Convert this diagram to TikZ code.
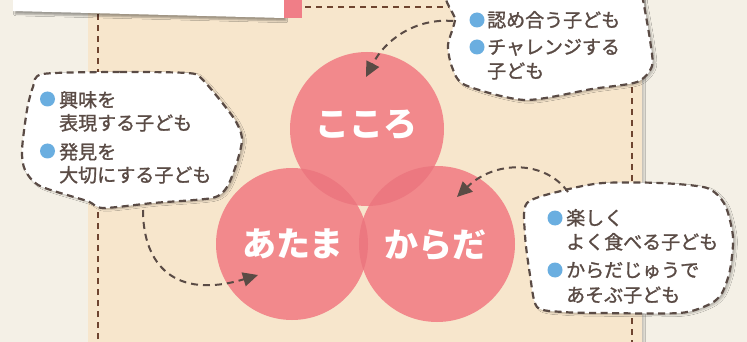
\documentclass[tikz,border=0pt]{standalone}
\usepackage{fontspec}
\newfontfamily\jp{Noto Sans CJK JP}
\newfontfamily\jpm{Noto Sans CJK JP}[FakeBold=1.3]
\usetikzlibrary{arrows.meta,shadows.blur}
\definecolor{bgcol}{HTML}{F4F0E6}
\definecolor{tancol}{HTML}{F7E6CC}
\definecolor{pinkA}{HTML}{F2898C}
\definecolor{pinkB}{HTML}{EC7880}
\definecolor{stripcol}{HTML}{F07E87}
\definecolor{inkcol}{HTML}{5A4B45}
\definecolor{linecol}{HTML}{6E4430}
\definecolor{bulcol}{HTML}{6AAEE0}
\tikzset{
  panelline/.style={draw=linecol, line width=1.2pt, dash pattern=on 6pt off 5pt},
  bubble/.style={fill=white, draw=inkcol, line width=2.2pt, dash pattern=on 7pt off 4.5pt,
    blur shadow={shadow xshift=2.5pt, shadow yshift=-1.5pt, shadow blur steps=6, shadow opacity=25}},
  arr/.style={draw=inkcol, line width=2pt, dash pattern=on 7pt off 5pt,
    -{Triangle[length=15pt,width=14pt]}},
  ball/.style={circle, fill=pinkA, inner sep=0pt},
  bigtxt/.style={text=white, font=\jp\bfseries\fontsize{34}{34}\selectfont, inner sep=0pt},
  line/.style={text=inkcol, font=\jpm\fontsize{19}{19}\selectfont, inner sep=0pt, anchor=base west},
  bul/.style={circle, fill=bulcol, minimum size=15pt, inner sep=0pt}
}
\begin{document}
\begin{tikzpicture}[x=1pt,y=-1pt]
\useasboundingbox (0,0) rectangle (747,342);
\clip (0,0) rectangle (747,342);
\fill[bgcol] (0,0) rectangle (747,342);
\fill[tancol, blur shadow={shadow xshift=2pt, shadow yshift=0pt, shadow opacity=20}] (88,-5) rectangle (642,350);
\draw[panelline] (98,350) -- (98,7) -- (632,7) -- (632,350);
% banner
\fill[white, blur shadow={shadow xshift=2pt, shadow yshift=-3pt, shadow opacity=35}] (13,-10) -- (284,-10) -- (284,18) -- (13,11) -- cycle;
\fill[stripcol] (284,-10) rectangle (302,18);
% circles
\node[ball, minimum size=154pt] (kokoroC) at (367,129) {};
\node[ball, minimum size=152pt] (atamaC) at (292,244) {};
\node[ball, minimum size=156pt] (karadaC) at (437,244) {};
\begin{scope}
  \clip (367,129) circle (77);
  \fill[pinkB] (292,244) circle (76);
  \fill[pinkB] (437,244) circle (78);
\end{scope}
\begin{scope}
  \clip (292,244) circle (76);
  \fill[pinkB] (437,244) circle (78);
\end{scope}
\node[bigtxt] (kokoro) at (366,125) {こころ};
\node[bigtxt] (atama) at (293,244) {あたま};
\node[bigtxt] (karada) at (435,245) {からだ};
% bubbles
\path[bubble] plot[smooth cycle, tension=0.45] coordinates {(43,74) (120,72) (187,73) (202,79) (233,117) (242,138) (237,162) (227,187) (212,198) (153,203) (103,208) (87,201) (40,186) (25,170) (22,150) (27,110) (33,87)};
\path[bubble] plot[smooth cycle, tension=0.45] coordinates {(456,-12) (455,20) (448,45) (452,67) (465,85) (525,100) (592,89) (637,82) (652,66) (650,40) (643,0) (640,-12)};
\path[bubble] plot[smooth cycle, tension=0.45] coordinates {(527,203) (565,190) (603,183) (660,183) (707,188) (725,205) (733,237) (730,270) (722,293) (710,304) (680,313) (600,313) (563,312) (537,307) (530,275) (525,235)};
% left bubble text
\node[bul] (b1) at (47.5,99) {};
\node[line] (l1) at (59,107) {興味を};
\node[line] (l2) at (59,130) {表現する子ども};
\node[bul] (b2) at (47.5,151) {};
\node[line] (l3) at (59,159) {発見を};
\node[line] (l4) at (59,182) {大切にする子ども};
% top right bubble text
\node[bul] (b3) at (477,20) {};
\node[line] (r1) at (487,27) {認め合う子ども};
\node[bul] (b4) at (477,47) {};
\node[line] (r2) at (487,54) {チャレンジする};
\node[line] (r3) at (487,78) {子ども};
% bottom right bubble text
\node[bul] (b5) at (555,218) {};
\node[line] (s1) at (566,225) {楽しく};
\node[line] (s2) at (566,249) {よく食べる子ども};
\node[bul] (b6) at (555,270) {};
\node[line] (s3) at (566,277) {からだじゅうで};
\node[line] (s4) at (566,302) {あそぶ子ども};
% arrows
\coordinate (tA) at (453,21);
\coordinate (hA) at (366,77);
\draw[arr] (tA) .. controls (415,18) and (385,40) .. (hA);
\coordinate (tB) at (143,210);
\coordinate (hB) at (258,275);
\draw[arr] (tB) .. controls (143,265) and (175,300) .. (hB);
\coordinate (tC) at (568,192);
\coordinate (hC) at (457,197);
\draw[arr] (tC) .. controls (545,160) and (495,160) .. (hC);
\end{tikzpicture}
\end{document}
